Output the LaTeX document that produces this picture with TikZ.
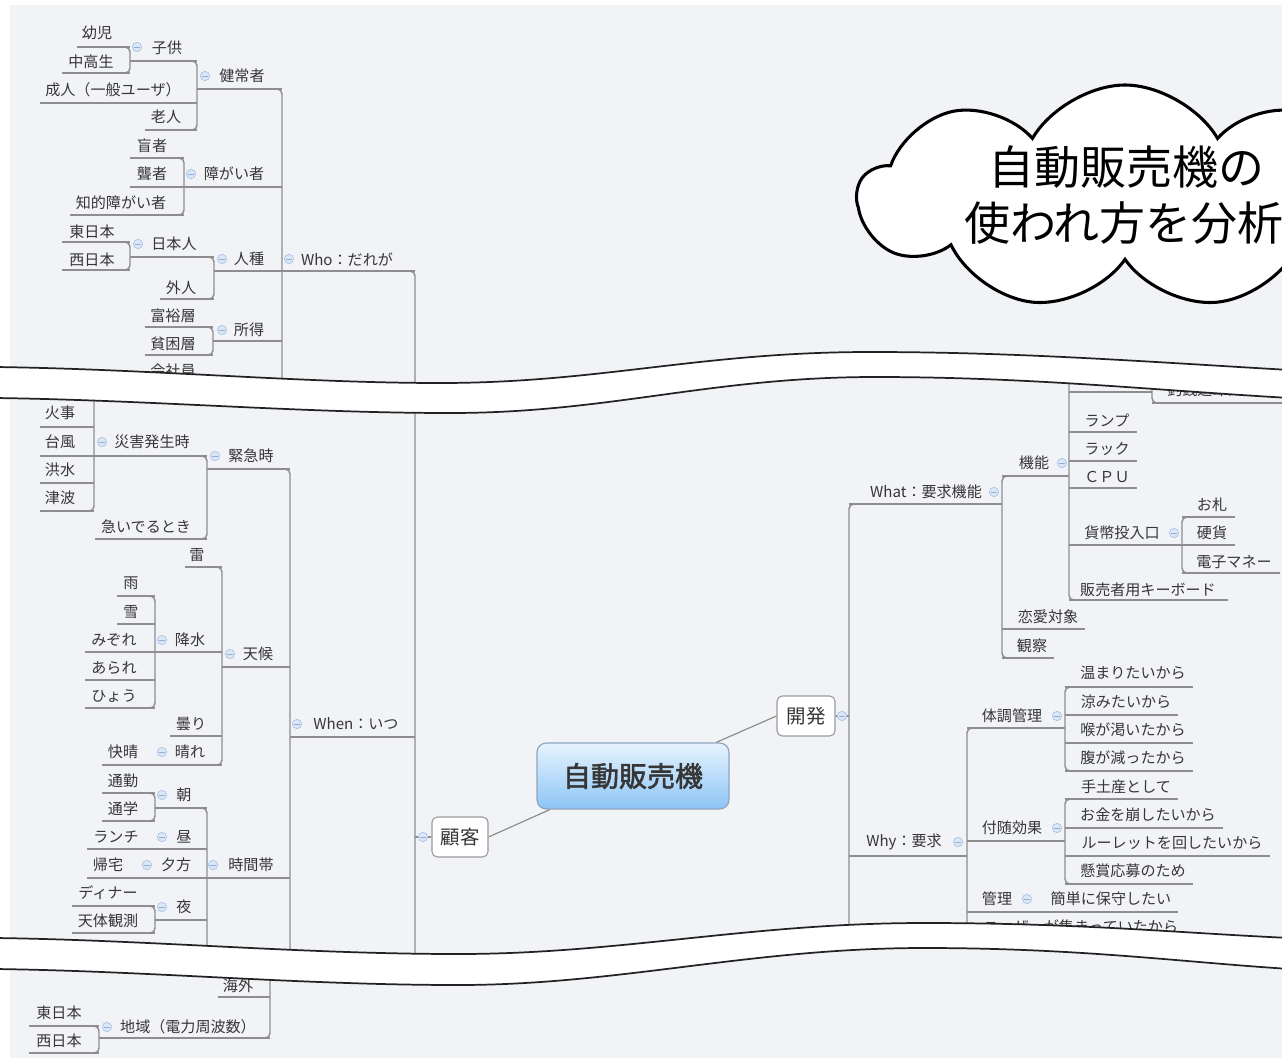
\documentclass[tikz,border=0pt]{standalone}
\usepackage{fontspec}
\setmainfont{Noto Sans CJK JP}
\newfontfamily\jpbold[FakeBold=2]{Noto Sans CJK JP}
\usetikzlibrary{shapes.symbols}
\definecolor{bgc}{HTML}{F2F3F7}
\definecolor{linec}{HTML}{8E8E8E}
\definecolor{txtc}{HTML}{363636}
\definecolor{mkf}{HTML}{DCE7F6}
\definecolor{mkb}{HTML}{A9C2E6}
\definecolor{mkl}{HTML}{8FAEDB}
\definecolor{ctop}{HTML}{E6F3FE}
\definecolor{cbot}{HTML}{8DC5F5}
\definecolor{cbd}{HTML}{8FA6BE}
\definecolor{boxbd}{HTML}{9A9A9A}
\definecolor{bandc}{HTML}{222222}
\tikzset{
  txt/.style={font=\fontsize{11.3}{13}\selectfont, text=txtc, inner sep=0pt},
  ln/.style={draw=linec, line width=1.1pt},
  tr/.style={ln, rounded corners=3.6pt},
  mk/.style={circle, draw=mkb, fill=mkf, minimum size=7pt, inner sep=0pt, line width=0.5pt,
    path picture={\draw[mkl, line width=0.6pt] ([xshift=-2pt]path picture bounding box.center) -- ([xshift=2pt]path picture bounding box.center);}},
  topic/.style={draw=boxbd, fill=white, rounded corners=4pt, line width=0.8pt, text=txtc, font=\fontsize{14.6}{16}\selectfont, inner sep=0pt},
  band/.style={draw=bandc, line width=1.3pt},
}
\newcommand\mmul[3]{\draw[ln] (#1,#3) -- (#2,#3);}
\newcommand\mmtl[3]{\draw[tr] (#1-8,#2) -- (#1,#2) -- (#1,#3) -- (#1-8,#3);}
\newcommand\mmtr[3]{\draw[tr] (#1+8,#2) -- (#1,#2) -- (#1,#3) -- (#1+8,#3);}
\newcommand\mmt[3]{\node[txt] (#1) at #2 {#3};}
\newcommand\mmk[2]{\node[mk] (#1) at #2 {};}
\begin{document}
\begin{tikzpicture}[x=0.75pt,y=-0.75pt]
\useasboundingbox (0,0) rectangle (1282,1061);
\clip (0,0) rectangle (1282,1061);
\fill[bgc] (10,5) rectangle (1290,1058);

% ---------- TOP SECTION (Who) ----------
\mmul{77}{130}{47} \mmul{130}{197}{61} \mmul{62}{130}{73}
\mmul{197}{282}{89} \mmul{40}{197}{103} \mmul{145}{197}{130}
\mmul{130}{184}{158} \mmul{130}{282}{187} \mmul{70}{184}{215}
\mmul{62}{130}{242} \mmul{62}{130}{270} \mmul{130}{214}{257}
\mmul{160}{214}{299} \mmul{214}{415}{271}
\mmul{145}{213}{327} \mmul{145}{213}{355} \mmul{213}{282}{341}
\mmul{145}{213}{383}
\mmtl{130}{47}{73} \mmtl{197}{61}{130} \mmtl{184}{158}{215}
\mmtl{130}{242}{270} \mmtl{214}{257}{299} \mmtl{213}{327}{355}
\draw[tr] (274,89) -- (282,89) -- (282,405);
\draw[tr] (407,271) -- (415,271) -- (415,965);

\mmt{yoji}{(97,33)}{幼児}
\mmt{kodomo}{(167,48)}{子供}
\mmt{chukosei}{(91,62)}{中高生}
\mmt{kenjo}{(242,76)}{健常者}
\mmt{seijin}{(113,90)}{成人（一般ユーザ）}
\mmt{rojin}{(166,117)}{老人}
\mmt{mosha}{(152,146)}{盲者}
\mmt{rosha}{(152,174)}{聾者}
\mmt{shogai}{(234,174)}{障がい者}
\mmt{chiteki}{(121,203)}{知的障がい者}
\mmt{higashiA}{(92,232)}{東日本}
\mmt{nishiA}{(92,260)}{西日本}
\mmt{nihonjin}{(174,244)}{日本人}
\mmt{jinshu}{(249,259)}{人種}
\mmt{who}{(347,259)}{Who：だれが}
\mmt{gaijin}{(181,288)}{外人}
\mmt{fuyu}{(173,316)}{富裕層}
\mmt{shotoku}{(249,330)}{所得}
\mmt{hinkon}{(173,344)}{貧困層}
\mmt{kaisha}{(173,371)}{会社員}
\mmk{mkodomo}{(137,47)} \mmk{mkenjo}{(205,76)} \mmk{mshogai}{(191,174)}
\mmk{mnihonjin}{(138,244)} \mmk{mjinshu}{(222,259)} \mmk{mwho}{(289,259)}
\mmk{mshotoku}{(222,330)}

% ---------- MIDDLE LEFT (When) ----------
\mmul{40}{94}{427} \mmul{40}{207}{456} \mmul{40}{94}{483} \mmul{40}{94}{511}
\mmul{207}{290}{469} \mmul{95}{207}{539}
\mmul{185}{222}{567} \mmul{117}{155}{596} \mmul{117}{155}{624}
\mmul{85}{222}{652} \mmul{222}{290}{667} \mmul{85}{155}{680} \mmul{85}{155}{708}
\mmul{170}{222}{736} \mmul{290}{415}{737} \mmul{102}{222}{765}
\mmul{102}{155}{793} \mmul{102}{155}{821} \mmul{155}{207}{808}
\mmul{87}{207}{849} \mmul{87}{290}{878}
\mmul{72}{155}{906} \mmul{155}{207}{920} \mmul{72}{155}{933}
\draw[tr] (94,395) -- (94,511) -- (86,511);
\mmtl{207}{456}{539}
\draw[tr] (282,469) -- (290,469) -- (290,965);
\mmtl{155}{596}{708}
\mmtl{222}{567}{765}
\mmtl{155}{793}{821}
\draw[tr] (199,808) -- (207,808) -- (207,965);
\mmtl{155}{906}{933}

\mmt{kaji}{(60,413)}{火事}
\mmt{taifu}{(60,442)}{台風}
\mmt{kozui}{(60,470)}{洪水}
\mmt{tsunami}{(60,498)}{津波}
\mmt{saigai}{(152,442)}{災害発生時}
\mmt{kinkyu}{(251,456)}{緊急時}
\mmt{isoide}{(146,527)}{急いでるとき}
\mmt{kaminari}{(197,555)}{雷}
\mmt{ame}{(131,583)}{雨}
\mmt{yuki}{(131,612)}{雪}
\mmt{mizore}{(114,640)}{みぞれ}
\mmt{kosui}{(190,640)}{降水}
\mmt{tenko}{(258,654)}{天候}
\mmt{arare}{(114,668)}{あられ}
\mmt{hyo}{(114,696)}{ひょう}
\mmt{kumori}{(191,724)}{曇り}
\mmt{when}{(356,724)}{When：いつ}
\mmt{kaisei}{(123,752)}{快晴}
\mmt{hare}{(190,752)}{晴れ}
\mmt{tsukin}{(123,781)}{通勤}
\mmt{asa}{(184,795)}{朝}
\mmt{tsugaku}{(123,809)}{通学}
\mmt{lunch}{(116,837)}{ランチ}
\mmt{hiru}{(184,837)}{昼}
\mmt{kitaku}{(108,865)}{帰宅}
\mmt{yugata}{(176,865)}{夕方}
\mmt{jikan}{(251,865)}{時間帯}
\mmt{dinner}{(108,893)}{ディナー}
\mmt{yoru}{(184,907)}{夜}
\mmt{tentai}{(108,921)}{天体観測}
\mmk{msaigai}{(102,442)} \mmk{mkinkyu}{(215,456)} \mmk{mkosui}{(162,640)}
\mmk{mtenko}{(230,654)} \mmk{mwhen}{(297,724)} \mmk{mhare}{(162,752)}
\mmk{masa}{(162,795)} \mmk{mhiru}{(162,837)} \mmk{myugata}{(147,865)}
\mmk{mjikan}{(213,865)} \mmk{myoru}{(162,907)}

% ---------- CENTRE ----------
\node[draw=cbd, line width=0.9pt, rounded corners=7pt, top color=ctop, bottom color=cbot,
  minimum width=192*0.75pt, minimum height=66*0.75pt, inner sep=0pt, text=txtc,
  font=\jpbold\fontsize{21}{24}\selectfont] (center) at (633,776) {自動販売機};
\node[topic, minimum width=56*0.75pt, minimum height=40*0.75pt] (kokyaku) at (460,837) {顧客};
\node[topic, minimum width=58*0.75pt, minimum height=40*0.75pt] (kaihatsu) at (806,716) {開発};
\draw[ln, line width=0.9pt] (center.22) -- (kaihatsu.west);
\draw[ln, line width=0.9pt] (center.202) -- (kokyaku.east);
\draw[ln] (415,837) -- (kokyaku.west);
\draw[ln] (kaihatsu.east) -- (849,716);
\mmk{mkokyaku}{(423,837)} \mmk{mkaihatsu}{(842,716)}

% ---------- RIGHT (What / Why) ----------
\mmul{849}{1002}{504} \mmul{1002}{1069}{476}
\mmul{1069}{1137}{432} \mmul{1069}{1137}{461} \mmul{1069}{1137}{488}
\mmul{1182}{1235}{517} \mmul{1069}{1235}{545} \mmul{1182}{1280}{573}
\mmul{1069}{1228}{600} \mmul{1002}{1085}{629} \mmul{1002}{1054}{658}
\mmul{1069}{1152}{392} \mmul{1152}{1290}{403}
\mmul{967}{1065}{728} \mmul{1065}{1193}{687} \mmul{1065}{1178}{715}
\mmul{1065}{1193}{743} \mmul{1065}{1193}{771}
\mmul{967}{1065}{841} \mmul{1065}{1178}{799} \mmul{1065}{1223}{828}
\mmul{1065}{1270}{856} \mmul{1065}{1193}{884}
\mmul{849}{967}{856} \mmul{967}{1178}{912} \mmul{967}{1178}{940}
\mmtr{1002}{476}{658}
\draw[tr] (1069,380) -- (1069,600) -- (1077,600);
\draw[tr] (1152,378) -- (1152,403) -- (1160,403);
\mmtr{1182}{517}{573}
\draw[tr] (857,504) -- (849,504) -- (849,938);
\draw[tr] (975,728) -- (967,728) -- (967,936);
\mmtr{1065}{687}{771}
\mmtr{1065}{799}{884}

\mmt{what}{(926,492)}{What：要求機能}
\mmt{kino}{(1034,463)}{機能}
\mmt{tsurisen}{(1205,390)}{釣銭返却口}
\mmt{lamp}{(1107,421)}{ランプ}
\mmt{rack}{(1107,449)}{ラック}
\mmt{cpu}{(1107,477)}{ＣＰＵ}
\mmt{osatsu}{(1212,505)}{お札}
\mmt{kahei}{(1122,533)}{貨幣投入口}
\mmt{koka}{(1212,533)}{硬貨}
\mmt{denshi}{(1234,562)}{電子マネー}
\mmt{hanbai}{(1148,590)}{販売者用キーボード}
\mmt{renai}{(1048,617)}{恋愛対象}
\mmt{kansatsu}{(1032,646)}{観察}
\mmt{atatamari}{(1133,673)}{温まりたいから}
\mmt{suzumi}{(1126,702)}{涼みたいから}
\mmt{nodo}{(1133,730)}{喉が渇いたから}
\mmt{hara}{(1133,758)}{腹が減ったから}
\mmt{taicho}{(1012,716)}{体調管理}
\mmt{temiyage}{(1126,787)}{手土産として}
\mmt{okane}{(1148,815)}{お金を崩したいから}
\mmt{roulette}{(1172,843)}{ルーレットを回したいから}
\mmt{kensho}{(1133,871)}{懸賞応募のため}
\mmt{fuzui}{(1012,828)}{付随効果}
\mmt{why}{(904,842)}{Why：要求}
\mmt{kanri}{(997,899)}{管理}
\mmt{kantan}{(1111,899)}{簡単に保守したい}
\mmt{user}{(1081,927)}{ユーザーが集まっていたから}
\mmk{mwhat}{(994,492)} \mmk{mkino}{(1062,463)} \mmk{mkahei}{(1174,533)}
\mmk{mtaicho}{(1057,716)} \mmk{mfuzui}{(1057,828)} \mmk{mwhy}{(958,842)}
\mmk{mkanri}{(1027,899)}

% ---------- BOTTOM ----------
\mmul{218}{270}{997} \mmul{99}{270}{1038} \mmul{29}{99}{1026} \mmul{29}{99}{1053}
\mmtl{99}{1026}{1053}
\draw[tr] (270,955) -- (270,1038) -- (262,1038);
\mmt{kaigai}{(238,986)}{海外}
\mmt{chiiki}{(188,1027)}{地域（電力周波数）}
\mmt{higashiB}{(59,1013)}{東日本}
\mmt{nishiB}{(59,1041)}{西日本}
\mmk{mchiiki}{(107,1027)}

% ---------- BREAK BANDS ----------
\fill[white] (-5,367) .. controls (150,369) and (300,383) .. (440,383)
  .. controls (600,383) and (700,352) .. (870,352)
  .. controls (1020,352) and (1150,362) .. (1290,370)
  -- (1290,398) .. controls (1150,390) and (1030,377) .. (875,377)
  .. controls (710,377) and (610,413) .. (450,413)
  .. controls (300,413) and (150,400) .. (-5,398) -- cycle;
\draw[band] (-5,367) .. controls (150,369) and (300,383) .. (440,383)
  .. controls (600,383) and (700,352) .. (870,352)
  .. controls (1020,352) and (1150,362) .. (1290,370);
\draw[band] (-5,398) .. controls (150,400) and (300,413) .. (450,413)
  .. controls (610,413) and (710,377) .. (875,377)
  .. controls (1030,377) and (1150,390) .. (1290,398);

\fill[white] (-5,938) .. controls (150,940) and (300,954) .. (458,954)
  .. controls (620,954) and (750,923) .. (924,923)
  .. controls (1080,923) and (1180,933) .. (1290,938)
  -- (1290,969) .. controls (1180,962) and (1080,948) .. (924,948)
  .. controls (750,948) and (620,985) .. (458,985)
  .. controls (300,985) and (150,971) .. (-5,969) -- cycle;
\draw[band] (-5,938) .. controls (150,940) and (300,954) .. (458,954)
  .. controls (620,954) and (750,923) .. (924,923)
  .. controls (1080,923) and (1180,933) .. (1290,938);
\draw[band] (-5,969) .. controls (150,971) and (300,985) .. (458,985)
  .. controls (620,985) and (750,948) .. (924,948)
  .. controls (1080,948) and (1180,962) .. (1290,969);

% ---------- CLOUD ----------
\node[cloud, draw=black, fill=white, line width=2.3pt, cloud puffs=9, cloud puff arc=120,
  aspect=2.4, minimum width=400pt, minimum height=168pt, inner sep=0pt] (cloud) at (1125,197) {};
\node[font=\fontsize{34.5}{40}\selectfont, text=black, inner sep=0pt] (ct1) at (1126,167) {自動販売機の};
\node[font=\fontsize{34.5}{40}\selectfont, text=black, inner sep=0pt] (ct2) at (1124,223) {使われ方を分析};
\end{tikzpicture}
\end{document}
